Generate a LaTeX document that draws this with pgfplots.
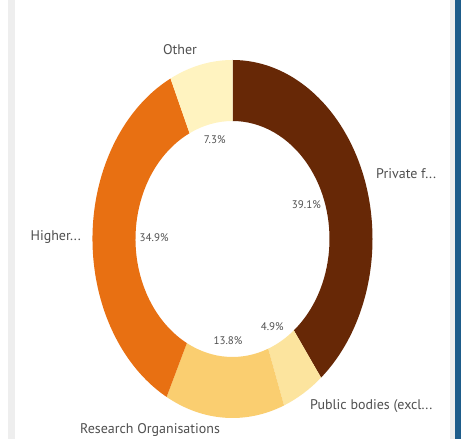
\documentclass[border=0pt]{standalone}
\usepackage{pgfplots}
\pgfplotsset{compat=1.18}
\usepackage{fontspec}
\setmainfont{PT Sans}

\definecolor{cPriv}{RGB}{103,40,6}
\definecolor{cPub}{RGB}{252,228,158}
\definecolor{cRes}{RGB}{250,206,112}
\definecolor{cHigh}{RGB}{232,112,18}
\definecolor{cOth}{RGB}{255,243,192}
\definecolor{txt}{RGB}{80,80,80}
\definecolor{frame}{RGB}{238,238,238}
\definecolor{edge}{RGB}{30,92,138}

% ring geometry (picture units = pt)
\def\cx{232.5}\def\cy{200}
\def\rxo{140}\def\ryo{179}
\def\rxi{97}\def\ryi{118}

\begin{document}
\begin{tikzpicture}
\begin{axis}[
    x=1pt, y=1pt,
    xmin=0, xmax=461, ymin=0, ymax=439,
    hide axis, clip=false
]
\fill[white] (axis cs:0,0) rectangle (axis cs:461,439);
% panel frame
\fill[frame] (axis cs:8,0) rectangle (axis cs:15,439);
\fill[frame] (axis cs:450,0) rectangle (axis cs:455,439);
\fill[edge] (axis cs:455,0) rectangle (axis cs:461,439);

% segments, clockwise from the top
\xdef\acc{90}
\foreach \v/\c in {39.1/cPriv, 4.9/cPub, 13.8/cRes, 34.9/cHigh, 7.3/cOth} {
    \pgfmathsetmacro\a{\acc}
    \pgfmathsetmacro\b{\acc-3.6*\v}
    \pgfmathsetmacro\m{(\a+\b)/2}
    \pgfmathsetmacro\xa{\cx+\rxo*cos(\a)}
    \pgfmathsetmacro\ya{\cy+\ryo*sin(\a)}
    \pgfmathsetmacro\xb{\cx+\rxi*cos(\b)}
    \pgfmathsetmacro\yb{\cy+\ryi*sin(\b)}
    \pgfmathsetmacro\xm{\cx+0.56*\rxo*cos(\m)}
    \pgfmathsetmacro\ym{\cy+0.57*\ryo*sin(\m)}
    \edef\temp{\noexpand\fill[\c] (axis cs:\xa,\ya)
        arc[start angle=\a, end angle=\b, x radius=\rxo pt, y radius=\ryo pt]
        -- (axis cs:\xb,\yb)
        arc[start angle=\b, end angle=\a, x radius=\rxi pt, y radius=\ryi pt]
        -- cycle;
        \noexpand\node[text=txt, font=\noexpand\fontsize{11}{13}\noexpand\selectfont]
        at (axis cs:\xm,\ym) {\v\noexpand\%};}
    \temp
    \xdef\acc{\b}
}

% category labels
\tikzset{lab/.style={text=txt, font=\fontsize{14}{16}\selectfont, inner sep=0pt}}
\node[lab, anchor=center] at (axis cs:180,389) {Other};
\node[lab, anchor=west] at (axis cs:376,265) {Private f...};
\node[lab, anchor=east] at (axis cs:81,202) {Higher...};
\node[lab, anchor=west] at (axis cs:310,33) {Public bodies (excl...};
\node[lab, anchor=center] at (axis cs:150,9) {Research Organisations};
\end{axis}
\end{tikzpicture}
\end{document}
